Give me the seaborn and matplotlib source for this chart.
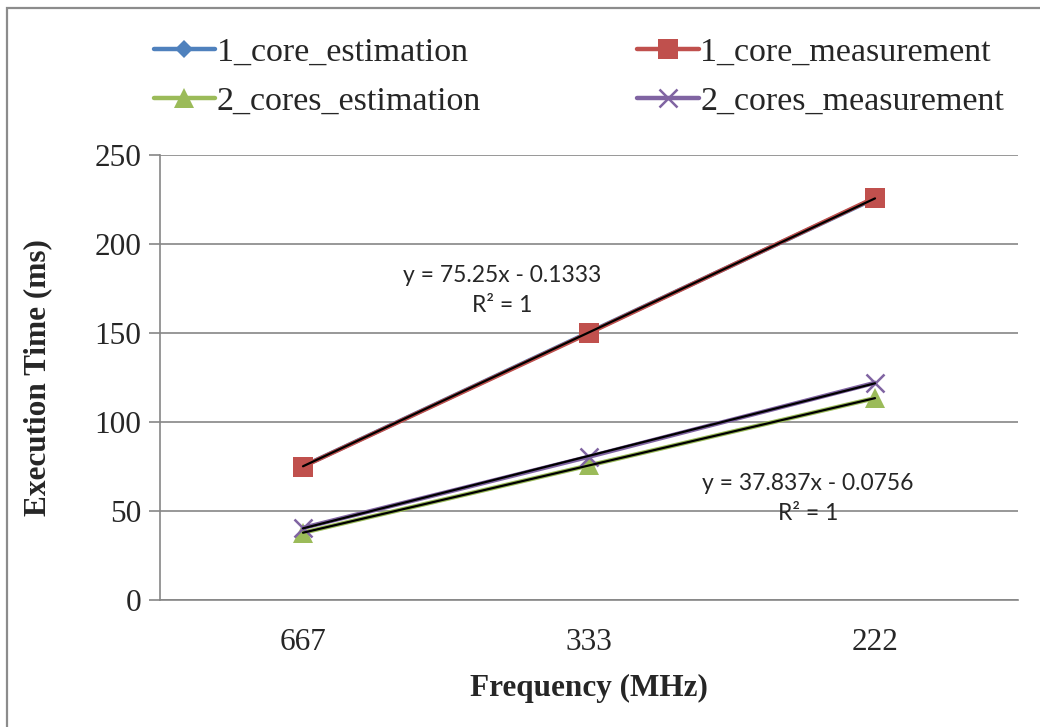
import numpy as np
import pandas as pd
import matplotlib
matplotlib.use("Agg")
import matplotlib.pyplot as plt
import seaborn as sns
from matplotlib.patches import Rectangle

# %%
# Data
freqs = ["667", "333", "222"]
one_core_est = [75.12, 150.37, 225.62]
one_core_meas = [75.0, 150.0, 226.0]
two_cores_est = [37.8, 75.6, 113.4]
two_cores_meas = [40.5, 80.5, 122.0]

series_names = ["1_core_estimation", "1_core_measurement",
                "2_cores_estimation", "2_cores_measurement"]
series_vals = [one_core_est, one_core_meas, two_cores_est, two_cores_meas]

df = pd.DataFrame({
    "pos": np.tile(np.arange(len(freqs)), len(series_names)),
    "y": np.concatenate(series_vals),
    "series": np.repeat(series_names, len(freqs)),
})

colors = {"1_core_estimation": "#4F81BD", "1_core_measurement": "#C0504D",
          "2_cores_estimation": "#9BBB59", "2_cores_measurement": "#8064A2"}
markers = {"1_core_estimation": "D", "1_core_measurement": "s",
           "2_cores_estimation": "^", "2_cores_measurement": "x"}
msizes = {"1_core_estimation": 9, "1_core_measurement": 14,
          "2_cores_estimation": 14, "2_cores_measurement": 13}

# %%
sns.set_style("white")
plt.rcParams["font.family"] = ["Liberation Serif", "DejaVu Serif"]

fig = plt.figure(figsize=(10.4, 7.27), dpi=100)
ax = fig.add_axes([160 / 1040, 1 - 600 / 727, 858 / 1040, 445 / 727])

for name in series_names:
    sub = df[df["series"] == name]
    sns.lineplot(data=sub, x="pos", y="y", ax=ax, color=colors[name],
                 linewidth=3.2, marker=markers[name], markersize=msizes[name],
                 markeredgewidth=1.8 if markers[name] == "x" else 0,
                 markeredgecolor=colors[name], label=name, legend=False)

# linear trendlines (Excel style, x = 1..3)
for vals in [one_core_est, two_cores_est, two_cores_meas]:
    xs = np.arange(1, len(vals) + 1)
    k, b = np.polyfit(xs, vals, 1)
    ax.plot(xs - 1, k * xs + b, color="black", linewidth=1.6, zorder=5)

ax.text(0.697, 174, "y = 75.25x - 0.1333\nR² = 1", ha="center", va="center",
        fontsize=16.5, family=["Lato", "DejaVu Sans"], linespacing=1.55)
ax.text(1.765, 57.2, "y = 37.837x - 0.0756\nR² = 1", ha="center", va="center",
        fontsize=16.5, family=["Lato", "DejaVu Sans"], linespacing=1.55)

ax.set_xlim(-0.5, 2.5)
ax.set_ylim(0, 250)
ax.set_yticks([0, 50, 100, 150, 200, 250])
ax.set_xticks(range(len(freqs)))
ax.set_xticklabels(freqs)
ax.set_xticks([-0.5, 0.5, 1.5, 2.5], minor=True)
ax.tick_params(axis="x", which="major", length=0, pad=20, labelsize=22.5)
ax.tick_params(axis="x", which="minor", length=8, width=1.2, color="#868686",
               direction="out")
ax.tick_params(axis="y", which="major", length=8, width=1.2, color="#868686",
               direction="out", labelsize=22.5, pad=5.5, left=True)
ax.grid(axis="y", color="#868686", linewidth=1.2)
ax.set_axisbelow(True)
for side in ["top", "right"]:
    ax.spines[side].set_visible(False)
for side in ["left", "bottom"]:
    ax.spines[side].set_color("#868686")
    ax.spines[side].set_linewidth(1.2)

ax.set_xlabel("Frequency (MHz)", fontsize=22.5, fontweight="bold", labelpad=12)
ax.set_ylabel("Execution Time (ms)", fontsize=22.5, fontweight="bold", labelpad=30)

handles = [ax.lines[i] for i in [0, 2, 1, 3]]
labels = [series_names[i] for i in [0, 2, 1, 3]]
fig.legend(handles, labels, loc="upper left", bbox_to_anchor=(140 / 1040, 1 - 23 / 727),
           ncol=2, frameon=False, fontsize=24.5, handlelength=1.8, handletextpad=0.05,
           columnspacing=4.6, labelspacing=0.55, borderaxespad=0)

fig.patches.append(Rectangle((7 / 1040, -0.1), 1.2, 1 - 8 / 727 + 0.1,
                             transform=fig.transFigure, fill=False,
                             edgecolor="#8c8c8c", linewidth=1.6))

fig.savefig("out.png", dpi=100)
